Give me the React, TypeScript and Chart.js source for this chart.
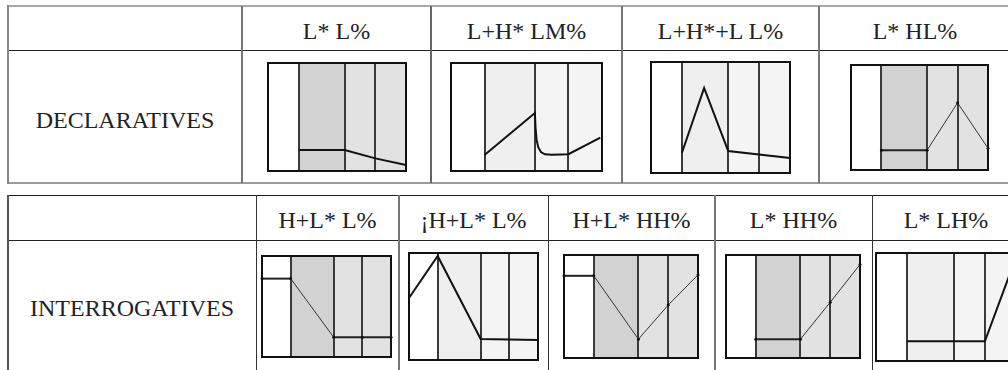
import React, { useEffect, useRef } from "react";
import { Chart, registerables } from "chart.js";

Chart.register(...registerables);

// ---------- data ----------
const syllableBounds = [0, 1, 2.5, 3.5, 4.5];
const rowLabels = ["DECLARATIVES", "INTERROGATIVES"];
const declHeaders = ["L* L%", "L+H* LM%", "L+H*+L L%", "L* HL%"];
const interHeaders = ["H+L* L%", "¡H+L* L%", "H+L* HH%", "L* HH%", "L* LH%"];

// contour points: x in syllable units, y on a 0–100 pitch range
const declLL = [
  { x: 1, y: 19.5 },
  { x: 2.5, y: 19.5 },
  { x: 3.5, y: 11.7 },
  { x: 4.5, y: 5.5 },
];
const declLHLM = [
  { x: 1, y: 14.8 },
  { x: 2.5, y: 53.7 },
  { x: 2.52, y: 40 },
  { x: 2.55, y: 29 },
  { x: 2.6, y: 22 },
  { x: 2.68, y: 17.5 },
  { x: 2.8, y: 15.5 },
  { x: 3.0, y: 15 },
  { x: 3.5, y: 15.5 },
  { x: 4.45, y: 31 },
];
const declLHLL = [
  { x: 1, y: 18 },
  { x: 1.72, y: 76.6 },
  { x: 2.5, y: 19.8 },
  { x: 4.5, y: 13.5 },
];
const declLHL = [
  { x: 1, y: 18.9 },
  { x: 2.5, y: 18.9 },
  { x: 3.5, y: 64 },
  { x: 4.5, y: 20.7 },
];
const interHLL = [
  { x: 0, y: 77.6 },
  { x: 1, y: 77.6 },
  { x: 2.5, y: 19.6 },
  { x: 3.5, y: 19.6 },
  { x: 4.5, y: 19.6 },
];
const interHLLExcl = [
  { x: 0, y: 57.9 },
  { x: 1, y: 97.2 },
  { x: 2.5, y: 19.6 },
  { x: 3.5, y: 19.2 },
  { x: 4.5, y: 18.7 },
];
const interHLHH = [
  { x: 0, y: 79.8 },
  { x: 1, y: 79.8 },
  { x: 2.5, y: 18.3 },
  { x: 3.5, y: 51.4 },
  { x: 4.5, y: 80.7 },
];
const interLHH = [
  { x: 1, y: 18.3 },
  { x: 2.5, y: 18.3 },
  { x: 3.5, y: 54.1 },
  { x: 4.5, y: 90.8 },
];
const interLLH = [
  { x: 1, y: 18.3 },
  { x: 2.5, y: 18.3 },
  { x: 3.5, y: 18.3 },
  { x: 4.5, y: 96 },
];

const declContours = [declLL, declLHLM, declLHLL, declLHL];
const interContours = [interHLL, interHLLExcl, interHLHH, interLHH, interLLH];
const declThin = [false, false, false, true];
const interThin = [true, false, true, true, false];
const declShade = ["dark", "light", "light", "dark"];
const interShade = ["dark", "light", "dark", "dark", "light"];

// ---------- styles / layout ----------
const shades: Record<string, string[]> = {
  dark: ["#ffffff", "#d2d2d2", "#e2e2e2", "#e2e2e2"],
  light: ["#ffffff", "#efefef", "#f4f4f4", "#f4f4f4"],
};
const FONT = "'Liberation Serif', 'Times New Roman', serif";

const topTable = { cols: [8, 242, 431, 622, 819, 1011] };
const botTable = { cols: [8, 256, 399, 548, 715, 872, 1020] };
const topColLine = ["#777", "#666", "#777", "#777"];
const botColLine = ["#333", "#777", "#333", "#777", "#333"];

const declBoxes = [
  { l: 268, t: 63, w: 138, h: 108 },
  { l: 451, t: 63, w: 151, h: 108 },
  { l: 651, t: 62, w: 139, h: 111 },
  { l: 848, t: 62, w: 143, h: 111 },
];
const interBoxes = [
  { l: 259, t: 253, w: 135, h: 107 },
  { l: 409, t: 253, w: 129, h: 107 },
  { l: 561, t: 252, w: 140, h: 109 },
  { l: 723, t: 252, w: 140, h: 109 },
  { l: 876, t: 253, w: 140, h: 108 },
];

const bandsPlugin = {
  id: "syllableBands",
  beforeDatasetsDraw(chart: any, _args: any, opts: any) {
    const { ctx, chartArea } = chart;
    const x = chart.scales.x;
    const { top, bottom } = chartArea;
    const cols: string[] = opts.colors || [];
    ctx.save();
    for (let i = 0; i < syllableBounds.length - 1; i++) {
      const a = x.getPixelForValue(syllableBounds[i]);
      const b = x.getPixelForValue(syllableBounds[i + 1]);
      ctx.fillStyle = cols[i] || "#fff";
      ctx.fillRect(a, top, b - a, bottom - top);
    }
    ctx.strokeStyle = "#3a3a3a";
    ctx.lineWidth = 2;
    for (let i = 1; i < syllableBounds.length - 1; i++) {
      const px = Math.round(x.getPixelForValue(syllableBounds[i]));
      ctx.beginPath();
      ctx.moveTo(px, top);
      ctx.lineTo(px, bottom);
      ctx.stroke();
    }
    ctx.restore();
  },
  afterDatasetsDraw(chart: any) {
    const { ctx, chartArea } = chart;
    ctx.save();
    ctx.strokeStyle = "#111";
    ctx.lineWidth = 2;
    ctx.strokeRect(chartArea.left, chartArea.top, chartArea.right - chartArea.left, chartArea.bottom - chartArea.top);
    ctx.restore();
  },
};

function Contour({ data, box, shade, thin }: any) {
  const ref = useRef<HTMLCanvasElement>(null);
  useEffect(() => {
    if (!ref.current) return;
    const chart = new Chart(ref.current, {
      type: "line",
      data: {
        datasets: [
          {
            data,
            borderColor: thin ? "#2a2a2a" : "#111",
            borderWidth: thin ? 1 : 2,
            pointRadius: thin ? 1.5 : 0,
            pointBackgroundColor: "#111",
            pointBorderWidth: 0,
            tension: 0,
            fill: false,
            clip: 4,
            segment: thin
              ? {
                  borderWidth: (c: any) => (Math.abs(c.p0.parsed.y - c.p1.parsed.y) < 0.01 ? 2 : 1),
                  borderColor: (c: any) => (Math.abs(c.p0.parsed.y - c.p1.parsed.y) < 0.01 ? "#222" : "#333"),
                }
              : undefined,
          } as any,
        ],
      },
      options: {
        responsive: false,
        animation: false,
        events: [],
        layout: { padding: 1 },
        scales: {
          x: { type: "linear", min: 0, max: 4.5, display: false },
          y: { type: "linear", min: 0, max: 100, display: false },
        },
        plugins: {
          legend: { display: false },
          tooltip: { enabled: false },
          syllableBands: { colors: shades[shade] },
        } as any,
      },
      plugins: [bandsPlugin],
    });
    return () => chart.destroy();
  }, [data, box, shade, thin]);
  return (
    <canvas
      ref={ref}
      width={box.w + 2}
      height={box.h + 2}
      style={{ position: "absolute", left: box.l - 1, top: box.t - 1, width: box.w + 2, height: box.h + 2 }}
    />
  );
}

function HLine({ x1, x2, y, color, w }: any) {
  return <div style={{ position: "absolute", left: x1, top: y - Math.floor(w / 2), width: x2 - x1, height: w, background: color }} />;
}
function VLine({ x, y1, y2, color, w }: any) {
  return <div style={{ position: "absolute", left: x - Math.floor(w / 2), top: y1, width: w, height: y2 - y1, background: color }} />;
}
function Label({ text, x1, x2, baseline }: any) {
  return (
    <div
      style={{
        position: "absolute",
        left: x1,
        width: x2 - x1,
        top: baseline - 20,
        height: 24,
        lineHeight: "24px",
        fontSize: 24,
        fontFamily: FONT,
        color: "#222",
        textAlign: "center",
        whiteSpace: "nowrap",
      }}
    >
      {text}
    </div>
  );
}

export default function App() {
  const tc = topTable.cols;
  const bc = botTable.cols;
  return (
    <div style={{ position: "absolute", left: 0, top: 0, width: 1008, height: 370, overflow: "hidden", background: "#fff" }}>
      {/* top table grid */}
      <HLine x1={7} x2={1008} y={6} color="#a8a8a8" w={2} />
      <HLine x1={8} x2={1008} y={50} color="#222" w={1} />
      <HLine x1={7} x2={1008} y={183} color="#9a9a9a" w={2} />
      <VLine x={8} y1={5} y2={184} color="#888" w={2} />
      {tc.slice(1, 5).map((x, i) => (
        <VLine key={"tv" + i} x={x} y1={6} y2={183} color={topColLine[i]} w={2} />
      ))}
      {/* bottom table grid */}
      <HLine x1={8} x2={1008} y={195} color="#222" w={1} />
      <HLine x1={8} x2={1008} y={240} color="#222" w={1} />
      <VLine x={8} y1={195} y2={370} color="#555" w={2} />
      {bc.slice(1, 6).map((x, i) => (
        <VLine key={"bv" + i} x={x} y1={195} y2={370} color={botColLine[i]} w={i % 2 === 0 ? 1 : 2} />
      ))}

      {/* text */}
      {declHeaders.map((h, i) => (
        <Label key={"dh" + i} text={h} x1={tc[i + 1]} x2={tc[i + 2]} baseline={39} />
      ))}
      {interHeaders.map((h, i) => (
        <Label key={"ih" + i} text={h} x1={bc[i + 1]} x2={bc[i + 2]} baseline={228} />
      ))}
      <Label text={rowLabels[0]} x1={tc[0]} x2={tc[1]} baseline={128} />
      <Label text={rowLabels[1]} x1={bc[0]} x2={bc[1]} baseline={316} />

      {/* contour diagrams */}
      {declContours.map((d, i) => (
        <Contour key={"dc" + i} data={d} box={declBoxes[i]} shade={declShade[i]} thin={declThin[i]} />
      ))}
      {interContours.map((d, i) => (
        <Contour key={"ic" + i} data={d} box={interBoxes[i]} shade={interShade[i]} thin={interThin[i]} />
      ))}
    </div>
  );
}
